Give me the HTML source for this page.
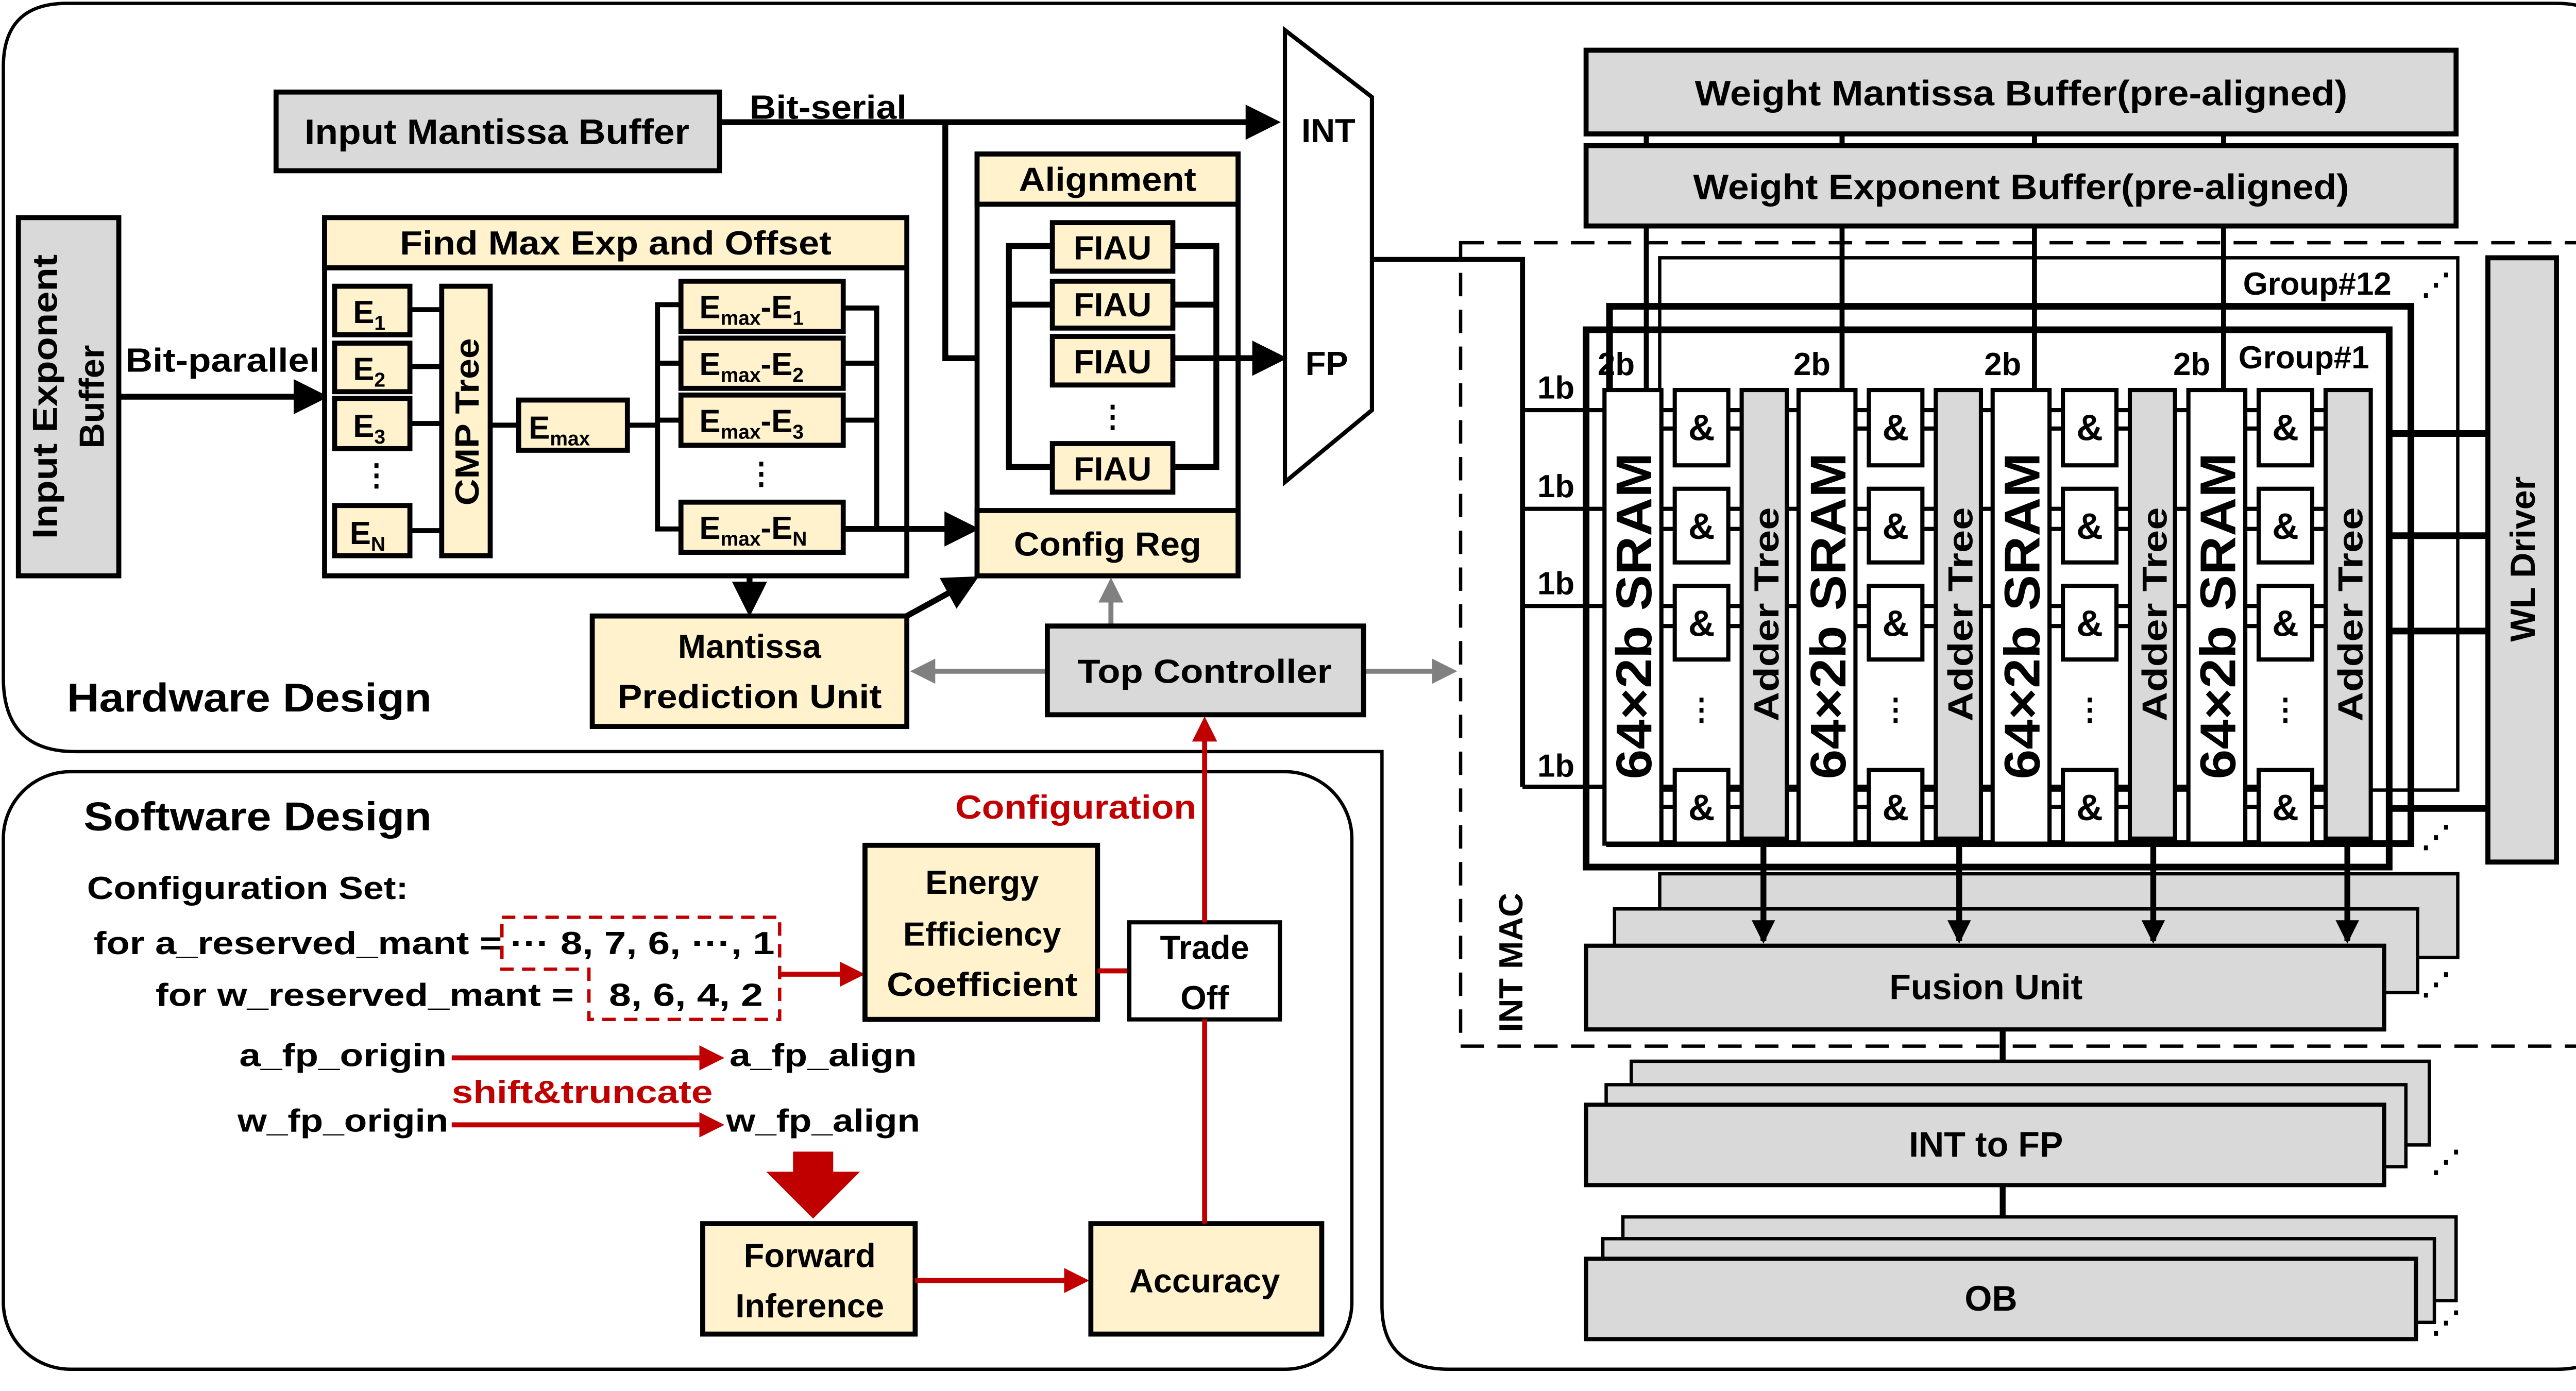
<!DOCTYPE html>
<html><head><meta charset="utf-8"><style>html,body{margin:0;padding:0;background:#fff}svg{display:block}</style></head>
<body>
<svg xmlns="http://www.w3.org/2000/svg" width="5092" height="2700" viewBox="0 0 1568 831" preserveAspectRatio="none" font-family="Liberation Sans, sans-serif" font-weight="bold">
<defs>
<marker id="ab" markerWidth="6" markerHeight="6" refX="5" refY="3" orient="auto" markerUnits="strokeWidth"><path d="M0,0 L6,3 L0,6 Z" fill="#000"/></marker>
<marker id="ab2" markerWidth="4" markerHeight="4" refX="3.5" refY="2" orient="auto" markerUnits="strokeWidth"><path d="M0,0 L4,2 L0,4 Z" fill="#000"/></marker>
<marker id="ag" markerWidth="5" markerHeight="5" refX="4" refY="2.5" orient="auto" markerUnits="strokeWidth"><path d="M0,0 L5,2.5 L0,5 Z" fill="#808080"/></marker>
<marker id="ar" markerWidth="5" markerHeight="5" refX="4" refY="2.5" orient="auto" markerUnits="strokeWidth"><path d="M0,0 L5,2.5 L0,5 Z" fill="#c00000"/></marker>
</defs>
<rect width="1568" height="831" fill="#fff"/>
<path d="M2,40 Q2,2 40,2 L1528,2 Q1566,2 1566,40 L1566,780 Q1566,818 1528,818 L866,818 Q826,818 826,780 L826,449 L45,449 Q2,449 2,405 Z" fill="none" stroke="#000" stroke-width="2"/>
<rect x="2" y="461" width="806" height="357" rx="40" fill="none" stroke="#000" stroke-width="2"/>

<line x1="430" y1="73" x2="762" y2="73" stroke="#000" stroke-width="3.5" marker-end="url(#ab)"/>
<text x="495" y="71" font-size="20" text-anchor="middle" textLength="94" lengthAdjust="spacingAndGlyphs">Bit-serial</text>
<rect x="165" y="55" width="265" height="47" fill="#d9d9d9" stroke="#000" stroke-width="3"/>
<text x="297" y="86" font-size="21" text-anchor="middle" textLength="230" lengthAdjust="spacingAndGlyphs">Input Mantissa Buffer</text>
<polyline points="565,73 565,214 766,214" fill="none" stroke="#000" stroke-width="3.5" marker-end="url(#ab)"/>

<polygon points="768,18 820,58 820,245 768,288" fill="#fff" stroke="#000" stroke-width="2.5"/>
<text x="794" y="85" font-size="20" text-anchor="middle">INT</text>
<text x="793" y="224" font-size="20" text-anchor="middle">FP</text>
<polyline points="820,155 910,155 910,470" fill="none" stroke="#000" stroke-width="3"/>

<rect x="11" y="130" width="60" height="214" fill="#d9d9d9" stroke="#000" stroke-width="3"/>
<text transform="translate(34,237) rotate(-90)" font-size="21" text-anchor="middle" textLength="170" lengthAdjust="spacingAndGlyphs">Input Exponent</text>
<text transform="translate(62,237) rotate(-90)" font-size="21" text-anchor="middle">Buffer</text>
<line x1="71" y1="237" x2="193" y2="237" stroke="#000" stroke-width="3.5" marker-end="url(#ab)"/>
<text x="133" y="222" font-size="20" text-anchor="middle" textLength="116" lengthAdjust="spacingAndGlyphs">Bit-parallel</text>

<rect x="194" y="130" width="348" height="214" fill="#fff" stroke="#000" stroke-width="3"/>
<rect x="194" y="130" width="348" height="30" fill="#fff2cc" stroke="#000" stroke-width="3"/>
<text x="368" y="152" font-size="20" text-anchor="middle" textLength="258" lengthAdjust="spacingAndGlyphs">Find Max Exp and Offset</text>
<g stroke="#000" stroke-width="3">
<line x1="245" y1="185" x2="264" y2="185"/><line x1="245" y1="219" x2="264" y2="219"/><line x1="245" y1="253" x2="264" y2="253"/><line x1="245" y1="317" x2="264" y2="317"/>
<line x1="293" y1="254" x2="310" y2="254"/><line x1="375" y1="254" x2="393" y2="254"/>
<polyline points="407,182 393,182 393,316 407,316" fill="none"/>
<line x1="393" y1="217" x2="407" y2="217"/><line x1="393" y1="251" x2="407" y2="251"/>
<polyline points="504,184 524,184 524,316" fill="none"/>
<line x1="504" y1="217" x2="524" y2="217"/><line x1="504" y1="251" x2="524" y2="251"/>
</g>
<line x1="504" y1="316" x2="582" y2="316" stroke="#000" stroke-width="3.5" marker-end="url(#ab)"/>
<g fill="#fff2cc" stroke="#000" stroke-width="3">
<rect x="200" y="171" width="45" height="29"/><rect x="200" y="205" width="45" height="29"/><rect x="200" y="238" width="45" height="30"/><rect x="200" y="302" width="45" height="30"/>
<rect x="264" y="171" width="29" height="161"/>
<rect x="310" y="239" width="65" height="30"/>
<rect x="407" y="168" width="97" height="30"/><rect x="407" y="202" width="97" height="30"/><rect x="407" y="236" width="97" height="30"/><rect x="407" y="300" width="97" height="30"/>
</g>
<g font-size="19">
<text x="211" y="193">E<tspan font-size="12" dy="4">1</tspan></text>
<text x="211" y="227">E<tspan font-size="12" dy="4">2</tspan></text>
<text x="211" y="261">E<tspan font-size="12" dy="4">3</tspan></text>
<text x="209" y="325">E<tspan font-size="12" dy="4">N</tspan></text>
<text x="316" y="262">E<tspan font-size="12" dy="4">max</tspan></text>
<text x="418" y="190">E<tspan font-size="12" dy="4">max</tspan><tspan dy="-4">-E</tspan><tspan font-size="12" dy="4">1</tspan></text>
<text x="418" y="224">E<tspan font-size="12" dy="4">max</tspan><tspan dy="-4">-E</tspan><tspan font-size="12" dy="4">2</tspan></text>
<text x="418" y="258">E<tspan font-size="12" dy="4">max</tspan><tspan dy="-4">-E</tspan><tspan font-size="12" dy="4">3</tspan></text>
<text x="418" y="322">E<tspan font-size="12" dy="4">max</tspan><tspan dy="-4">-E</tspan><tspan font-size="12" dy="4">N</tspan></text>
</g>
<text transform="translate(286,252) rotate(-90)" font-size="20" text-anchor="middle" textLength="100" lengthAdjust="spacingAndGlyphs">CMP Tree</text>
<text x="225" y="290" font-size="18" text-anchor="middle">⋮</text>
<text x="455" y="289" font-size="18" text-anchor="middle">⋮</text>

<rect x="584" y="92" width="156" height="252" fill="#fff" stroke="#000" stroke-width="3"/>
<rect x="584" y="92" width="156" height="30" fill="#fff2cc" stroke="#000" stroke-width="3"/>
<text x="662" y="114" font-size="20" text-anchor="middle" textLength="106" lengthAdjust="spacingAndGlyphs">Alignment</text>
<rect x="584" y="305" width="156" height="39" fill="#fff2cc" stroke="#000" stroke-width="3"/>
<text x="662" y="332" font-size="20" text-anchor="middle" textLength="112" lengthAdjust="spacingAndGlyphs">Config Reg</text>
<g stroke="#000" stroke-width="3.5" fill="none">
<polyline points="629,147 603,147 603,279 629,279"/><line x1="603" y1="182" x2="629" y2="182"/>
<polyline points="701,147 727,147 727,279 701,279"/><line x1="701" y1="182" x2="727" y2="182"/>
</g>
<g fill="#fff2cc" stroke="#000" stroke-width="3">
<rect x="629" y="133" width="72" height="29"/><rect x="629" y="168" width="72" height="28"/><rect x="629" y="201" width="72" height="29"/><rect x="629" y="265" width="72" height="29"/>
</g>
<g font-size="20" text-anchor="middle">
<text x="665" y="155">FIAU</text><text x="665" y="189">FIAU</text><text x="665" y="223">FIAU</text><text x="665" y="287">FIAU</text>
<text x="665" y="255" font-size="18">⋮</text>
</g>
<line x1="701" y1="214" x2="766" y2="214" stroke="#000" stroke-width="3.5" marker-end="url(#ab)"/>

<line x1="448" y1="344" x2="448" y2="365" stroke="#000" stroke-width="3.5" marker-end="url(#ab)"/>
<rect x="354" y="368" width="188" height="66" fill="#fff2cc" stroke="#000" stroke-width="3"/>
<text x="448" y="393" font-size="20" text-anchor="middle">Mantissa</text>
<text x="448" y="423" font-size="20" text-anchor="middle" textLength="158" lengthAdjust="spacingAndGlyphs">Prediction Unit</text>
<line x1="542" y1="368" x2="582" y2="346" stroke="#000" stroke-width="3.5" marker-end="url(#ab)"/>

<line x1="626" y1="401" x2="547" y2="401" stroke="#808080" stroke-width="3" marker-end="url(#ag)"/>
<line x1="815" y1="401" x2="868" y2="401" stroke="#808080" stroke-width="3" marker-end="url(#ag)"/>
<line x1="664" y1="374" x2="664" y2="348" stroke="#808080" stroke-width="3" marker-end="url(#ag)"/>
<rect x="626" y="374" width="189" height="53" fill="#d9d9d9" stroke="#000" stroke-width="3"/>
<text x="720" y="408" font-size="20" text-anchor="middle" textLength="152" lengthAdjust="spacingAndGlyphs">Top Controller</text>
<text x="40" y="425" font-size="24" textLength="218" lengthAdjust="spacingAndGlyphs">Hardware Design</text>

<rect x="873" y="145" width="669" height="480" fill="none" stroke="#000" stroke-width="2" stroke-dasharray="14,8"/>
<text transform="translate(910,575) rotate(-90)" font-size="20" text-anchor="middle">INT MAC</text>
<g stroke="#000" stroke-width="3">
<line x1="984" y1="55" x2="984" y2="233"/><line x1="1101" y1="55" x2="1101" y2="233"/><line x1="1216" y1="55" x2="1216" y2="233"/><line x1="1329" y1="55" x2="1329" y2="233"/>
</g>
<rect x="948" y="30" width="520" height="50" fill="#d9d9d9" stroke="#000" stroke-width="3"/>
<text x="1208" y="63" font-size="21" text-anchor="middle" textLength="390" lengthAdjust="spacingAndGlyphs">Weight Mantissa Buffer(pre-aligned)</text>
<rect x="948" y="87" width="520" height="48" fill="#d9d9d9" stroke="#000" stroke-width="3"/>
<text x="1208" y="119" font-size="21" text-anchor="middle" textLength="392" lengthAdjust="spacingAndGlyphs">Weight Exponent Buffer(pre-aligned)</text>
<g stroke="#000" stroke-width="3"><line x1="984" y1="80" x2="984" y2="87"/><line x1="1101" y1="80" x2="1101" y2="87"/><line x1="1216" y1="80" x2="1216" y2="87"/><line x1="1329" y1="80" x2="1329" y2="87"/></g>

<rect x="992" y="154" width="477" height="318" fill="none" stroke="#000" stroke-width="2"/>
<rect x="962" y="183" width="479" height="321" fill="none" stroke="#000" stroke-width="4"/>
<rect x="948" y="197" width="480" height="321" fill="none" stroke="#000" stroke-width="4"/>
<text x="1385" y="176" font-size="19" text-anchor="middle">Group#12</text>
<text x="1377" y="220" font-size="19" text-anchor="middle">Group#1</text>
<g font-size="19" text-anchor="middle"><text x="966" y="224">2b</text><text x="1083" y="224">2b</text><text x="1197" y="224">2b</text><text x="1310" y="224">2b</text></g>
<g font-size="19" text-anchor="middle"><text x="930" y="238">1b</text><text x="930" y="297">1b</text><text x="930" y="355">1b</text><text x="930" y="464">1b</text></g>
<g stroke="#000" stroke-width="2.5">
<line x1="910" y1="245" x2="1390" y2="245"/><line x1="910" y1="304" x2="1390" y2="304"/><line x1="910" y1="362" x2="1390" y2="362"/><line x1="910" y1="470" x2="1390" y2="470"/>
</g>
<g stroke="#000" stroke-width="4">
<line x1="1428" y1="259" x2="1487" y2="259"/><line x1="1428" y1="320" x2="1487" y2="320"/><line x1="1428" y1="377" x2="1487" y2="377"/><line x1="1428" y1="483" x2="1487" y2="483"/>
</g>
<g id="col">
<g stroke="#000" stroke-width="2.5">
<line x1="993" y1="256" x2="1041" y2="256"/><line x1="993" y1="316" x2="1041" y2="316"/><line x1="993" y1="374" x2="1041" y2="374"/><line x1="993" y1="482" x2="1041" y2="482"/>
</g>
<rect x="959" y="233" width="34" height="271" fill="#fff" stroke="#000" stroke-width="2.5"/>
<rect x="1041" y="233" width="27" height="268" fill="#d9d9d9" stroke="#000" stroke-width="2.5"/>
<g fill="#fff" stroke="#000" stroke-width="2.5">
<rect x="1001" y="233" width="32" height="45"/><rect x="1001" y="292" width="32" height="44"/><rect x="1001" y="350" width="32" height="44"/><rect x="1001" y="460" width="32" height="44"/>
</g>
<g font-size="22" text-anchor="middle"><text x="1017" y="263">&amp;</text><text x="1017" y="322">&amp;</text><text x="1017" y="380">&amp;</text><text x="1017" y="490">&amp;</text></g>
<text x="1017" y="430" font-size="18" text-anchor="middle">⋮</text>
<text transform="translate(987,368) rotate(-90)" font-size="30" text-anchor="middle" textLength="195" lengthAdjust="spacingAndGlyphs">64×2b SRAM</text>
<text transform="translate(1063,367) rotate(-90)" font-size="21" text-anchor="middle" textLength="128" lengthAdjust="spacingAndGlyphs">Adder  Tree</text>
</g>
<use href="#col" x="116"/><use href="#col" x="232"/><use href="#col" x="349"/>
<rect x="1487" y="154" width="41" height="361" fill="#d9d9d9" stroke="#000" stroke-width="3"/>
<text transform="translate(1515,334) rotate(-90)" font-size="21" text-anchor="middle">WL Driver</text>
<g font-size="18" text-anchor="middle"><text x="1456" y="176">⋰</text><text x="1456" y="506">⋰</text><text x="1456" y="546">⋰</text><text x="1456" y="594">⋰</text><text x="1462" y="700">⋰</text><text x="1462" y="796">⋰</text></g>

<rect x="992" y="522" width="477" height="50" fill="#d9d9d9" stroke="#000" stroke-width="2"/>
<rect x="965" y="543" width="480" height="50" fill="#d9d9d9" stroke="#000" stroke-width="2"/>
<g stroke="#000" stroke-width="3.5">
<line x1="1054" y1="504" x2="1054" y2="562" marker-end="url(#ab2)"/><line x1="1171" y1="504" x2="1171" y2="562" marker-end="url(#ab2)"/><line x1="1287" y1="504" x2="1287" y2="562" marker-end="url(#ab2)"/><line x1="1403" y1="504" x2="1403" y2="562" marker-end="url(#ab2)"/>
</g>
<rect x="948" y="565" width="477" height="50" fill="#d9d9d9" stroke="#000" stroke-width="2.5"/>
<text x="1187" y="597" font-size="21" text-anchor="middle">Fusion Unit</text>
<line x1="1197" y1="615" x2="1197" y2="656" stroke="#000" stroke-width="3.5" marker-end="url(#ab2)"/>
<rect x="975" y="634" width="477" height="50" fill="#d9d9d9" stroke="#000" stroke-width="2"/>
<rect x="960" y="648" width="478" height="49" fill="#d9d9d9" stroke="#000" stroke-width="2"/>
<rect x="948" y="660" width="477" height="48" fill="#d9d9d9" stroke="#000" stroke-width="2.5"/>
<text x="1187" y="691" font-size="21" text-anchor="middle">INT to FP</text>
<line x1="1197" y1="708" x2="1197" y2="748" stroke="#000" stroke-width="3.5" marker-end="url(#ab2)"/>
<rect x="970" y="727" width="498" height="50" fill="#d9d9d9" stroke="#000" stroke-width="2"/>
<rect x="958" y="740" width="497" height="50" fill="#d9d9d9" stroke="#000" stroke-width="2"/>
<rect x="948" y="752" width="496" height="48" fill="#d9d9d9" stroke="#000" stroke-width="2.5"/>
<text x="1190" y="783" font-size="21" text-anchor="middle">OB</text>

<text x="50" y="496" font-size="24" textLength="208" lengthAdjust="spacingAndGlyphs">Software Design</text>
<text x="52" y="537" font-size="19" textLength="192" lengthAdjust="spacingAndGlyphs">Configuration Set:</text>
<text x="56" y="570" font-size="19" textLength="244" lengthAdjust="spacingAndGlyphs">for a_reserved_mant =</text>
<text x="305" y="570" font-size="19" textLength="158" lengthAdjust="spacingAndGlyphs">··· 8, 7, 6, ···, 1</text>
<text x="93" y="601" font-size="19" textLength="250" lengthAdjust="spacingAndGlyphs">for w_reserved_mant =</text>
<text x="364" y="601" font-size="19" textLength="92" lengthAdjust="spacingAndGlyphs">8, 6, 4, 2</text>
<path d="M300,548 L466,548 L466,609 L352,609 L352,579 L300,579 Z" fill="none" stroke="#c00000" stroke-width="2" stroke-dasharray="8,5"/>
<line x1="466" y1="582" x2="514" y2="582" stroke="#c00000" stroke-width="3" marker-end="url(#ar)"/>
<rect x="517" y="505" width="139" height="104" fill="#fff2cc" stroke="#000" stroke-width="3"/>
<g font-size="20" text-anchor="middle"><text x="587" y="534">Energy</text><text x="587" y="565">Efficiency</text><text x="587" y="595" textLength="114" lengthAdjust="spacingAndGlyphs">Coefficient</text></g>
<line x1="656" y1="580" x2="675" y2="580" stroke="#c00000" stroke-width="3"/>
<rect x="675" y="551" width="90" height="58" fill="#fff" stroke="#000" stroke-width="2.5"/>
<g font-size="20" text-anchor="middle"><text x="720" y="573">Trade</text><text x="720" y="603">Off</text></g>
<line x1="720" y1="551" x2="720" y2="431" stroke="#c00000" stroke-width="3" marker-end="url(#ar)"/>
<text x="643" y="489" font-size="20" fill="#c00000" text-anchor="middle" textLength="144" lengthAdjust="spacingAndGlyphs">Configuration</text>
<text x="205" y="637" font-size="19" text-anchor="middle" textLength="124" lengthAdjust="spacingAndGlyphs">a_fp_origin</text>
<text x="205" y="676" font-size="19" text-anchor="middle" textLength="126" lengthAdjust="spacingAndGlyphs">w_fp_origin</text>
<text x="492" y="637" font-size="19" text-anchor="middle" textLength="112" lengthAdjust="spacingAndGlyphs">a_fp_align</text>
<text x="492" y="676" font-size="19" text-anchor="middle" textLength="116" lengthAdjust="spacingAndGlyphs">w_fp_align</text>
<line x1="270" y1="632" x2="430" y2="632" stroke="#c00000" stroke-width="3" marker-end="url(#ar)"/>
<line x1="270" y1="672" x2="430" y2="672" stroke="#c00000" stroke-width="3" marker-end="url(#ar)"/>
<text x="348" y="659" font-size="19" fill="#c00000" text-anchor="middle" textLength="156" lengthAdjust="spacingAndGlyphs">shift&amp;truncate</text>
<polygon points="474,688 498,688 498,700 514,700 486,728 458,700 474,700" fill="#c00000"/>
<rect x="420" y="731" width="127" height="66" fill="#fff2cc" stroke="#000" stroke-width="3"/>
<g font-size="20" text-anchor="middle"><text x="484" y="757">Forward</text><text x="484" y="787">Inference</text></g>
<line x1="547" y1="765" x2="648" y2="765" stroke="#c00000" stroke-width="3" marker-end="url(#ar)"/>
<rect x="652" y="731" width="138" height="66" fill="#fff2cc" stroke="#000" stroke-width="3"/>
<text x="720" y="772" font-size="20" text-anchor="middle">Accuracy</text>
<line x1="720" y1="731" x2="720" y2="609" stroke="#c00000" stroke-width="3"/>
</svg>
</body></html>
